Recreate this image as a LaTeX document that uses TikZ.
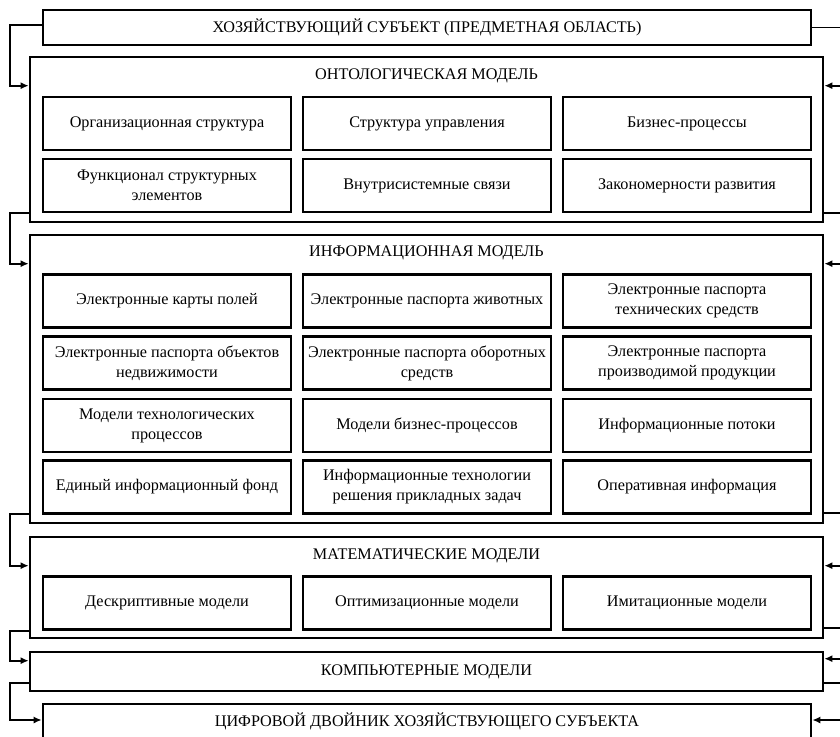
\documentclass[tikz,border=0pt]{standalone}
\usepackage{fontspec}
\setmainfont{Liberation Serif}
\usetikzlibrary{arrows.meta,positioning}

\begin{document}
\begin{tikzpicture}[x=1pt,y=-1pt,
  every node/.style={font=\rmfamily\fontsize{16.2}{20}\selectfont},
  frame/.style={draw, line width=2.6pt, inner sep=0pt},
  cell/.style={draw, line width=2.6pt, minimum width=248pt, minimum height=53pt, inner sep=2pt, align=center},
  link/.style={line width=1.7pt},
  arr/.style={link, -{Latex[length=8pt,width=7pt]}}]
\useasboundingbox (0,0) rectangle (840,736);
\clip (0,0) rectangle (840,736);
% outer frames
\node[frame, minimum width=768pt, minimum height=35pt] (subj) at (427,27.5) {ХОЗЯЙСТВУЮЩИЙ СУБЪЕКТ (ПРЕДМЕТНАЯ ОБЛАСТЬ)};
\node[frame, minimum width=793pt, minimum height=165pt] (onto) at (426.5,139.5) {};
\node[frame, minimum width=793pt, minimum height=288pt] (info) at (426.5,379) {};
\node[frame, minimum width=793pt, minimum height=101pt] (math) at (426.5,587.5) {};
\node[frame, minimum width=793pt, minimum height=39pt] (comp) at (426.5,671.5) {КОМПЬЮТЕРНЫЕ МОДЕЛИ};
\node[frame, minimum width=768pt, minimum height=35pt] (twin) at (427,721.5) {ЦИФРОВОЙ ДВОЙНИК ХОЗЯЙСТВУЮЩЕГО СУБЪЕКТА};
% titles
\node (ontot) at (426.5,76) {ОНТОЛОГИЧЕСКАЯ МОДЕЛЬ};
\node (infot) at (426.5,253) {ИНФОРМАЦИОННАЯ МОДЕЛЬ};
\node (matht) at (426.5,556) {МАТЕМАТИЧЕСКИЕ МОДЕЛИ};
% ontology cells
\node[cell] (o11) at (167,123.5) {Организационная структура};
\node[cell] (o12) at (427,123.5) {Структура управления};
\node[cell] (o13) at (687,123.5) {Бизнес-процессы};
\node[cell] (o21) at (167,185.5) {Функционал структурных\\элементов};
\node[cell] (o22) at (427,185.5) {Внутрисистемные связи};
\node[cell] (o23) at (687,185.5) {Закономерности развития};
% information cells
\node[cell] (i11) at (167,301) {Электронные карты полей};
\node[cell] (i12) at (427,301) {Электронные паспорта животных};
\node[cell] (i13) at (687,301) {Электронные паспорта\\технических средств};
\node[cell] (i21) at (167,363) {Электронные паспорта объектов\\недвижимости};
\node[cell] (i22) at (427,363) {Электронные паспорта оборотных\\средств};
\node[cell] (i23) at (687,363) {Электронные паспорта\\производимой продукции};
\node[cell] (i31) at (167,425.5) {Модели технологических\\процессов};
\node[cell] (i32) at (427,425.5) {Модели бизнес-процессов};
\node[cell] (i33) at (687,425.5) {Информационные потоки};
\node[cell] (i41) at (167,487) {Единый информационный фонд};
\node[cell] (i42) at (427,487) {Информационные технологии\\решения прикладных задач};
\node[cell] (i43) at (687,487) {Оперативная информация};
% math cells
\node[cell] (m1) at (167,603) {Дескриптивные модели};
\node[cell] (m2) at (427,603) {Оптимизационные модели};
\node[cell] (m3) at (687,603) {Имитационные модели};
% left links
\draw[arr] ([yshift=2.5pt]subj.west) -- ++(-32,0) |- ([yshift=-30pt]onto.north west);
\draw[arr] ([yshift=10pt]onto.south west) -- ++(-19,0) |- ([yshift=-30pt]info.north west);
\draw[arr] ([yshift=10pt]info.south west) -- ++(-19,0) |- ([yshift=-30pt]math.north west);
\draw[arr] ([yshift=8pt]math.south west) -- ++(-19,0) |- ([yshift=-10pt]comp.north west);
\draw[arr] ([yshift=9pt]comp.south west) -- ++(-19,0) |- ([yshift=1.5pt]twin.west);
% right links
\draw[arr] (subj.east) -- ++(32,0) |- ([yshift=-30pt]onto.north east);
\draw[arr] ([yshift=10pt]onto.south east) -- ++(19,0) |- ([yshift=-30pt]info.north east);
\draw[arr] ([yshift=11pt]info.south east) -- ++(19,0) |- ([yshift=-30pt]math.north east);
\draw[arr] ([yshift=11pt]math.south east) -- ++(19,0) |- ([yshift=-8pt]comp.north east);
\draw[arr] ([yshift=9pt]comp.south east) -- ++(19,0) |- ([yshift=1.5pt]twin.east);
\end{tikzpicture}
\end{document}
